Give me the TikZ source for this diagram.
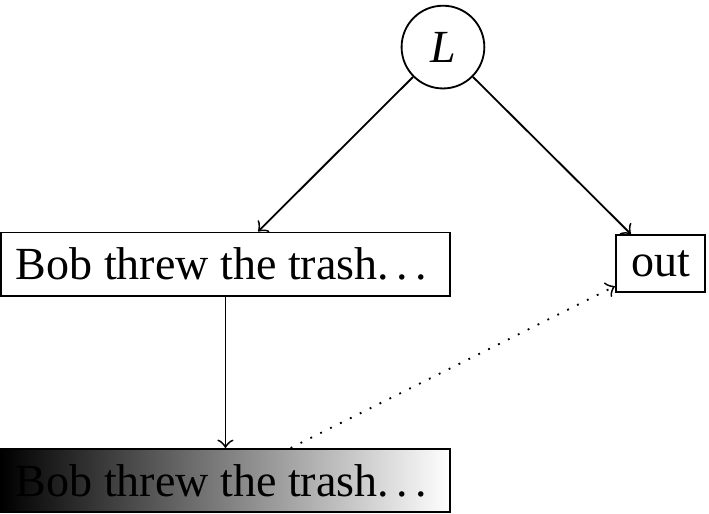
\documentclass[tikz,border=0pt]{standalone}
\usepackage{fontspec}
\setmainfont{Liberation Serif}
\usetikzlibrary{positioning}
\newcommand{\mydots}{.\kern.1667em.\kern.1667em.\kern.1667em}

\begin{document}
\begin{tikzpicture}[
  box/.style={rectangle, draw},
  shadedbox/.style={rectangle, draw, left color=black, right color=white},
  latent/.style={circle, draw},
  arrow/.style={->},
  every node/.style={font=\normalsize}
]
  \useasboundingbox (0,0) rectangle (5.418,3.928);

  % Latent variable (top)
  \node[latent] (L) at (3.385,3.568) {\textit{L}};

  % Sentence and output (middle row)
  \node[box] (sent) at (1.723,1.910) {Bob threw the trash\mydots};
  \node[box] (out) at (5.047,1.914) {out};

  % Shaded sentence (bottom)
  \node[shadedbox] (shade) at (1.723,0.256) {Bob threw the trash\mydots};
  \coordinate (feed) at (-0.4,0.256);

  % Arrows
  \draw[arrow] (L) -- (sent);
  \draw[arrow] (L) -- (out);
  \draw[arrow] (sent) -- (shade);
  \draw[arrow, dotted] (shade) -- (out);
  \draw[arrow] (feed) -- (shade.west);
\end{tikzpicture}
\end{document}
